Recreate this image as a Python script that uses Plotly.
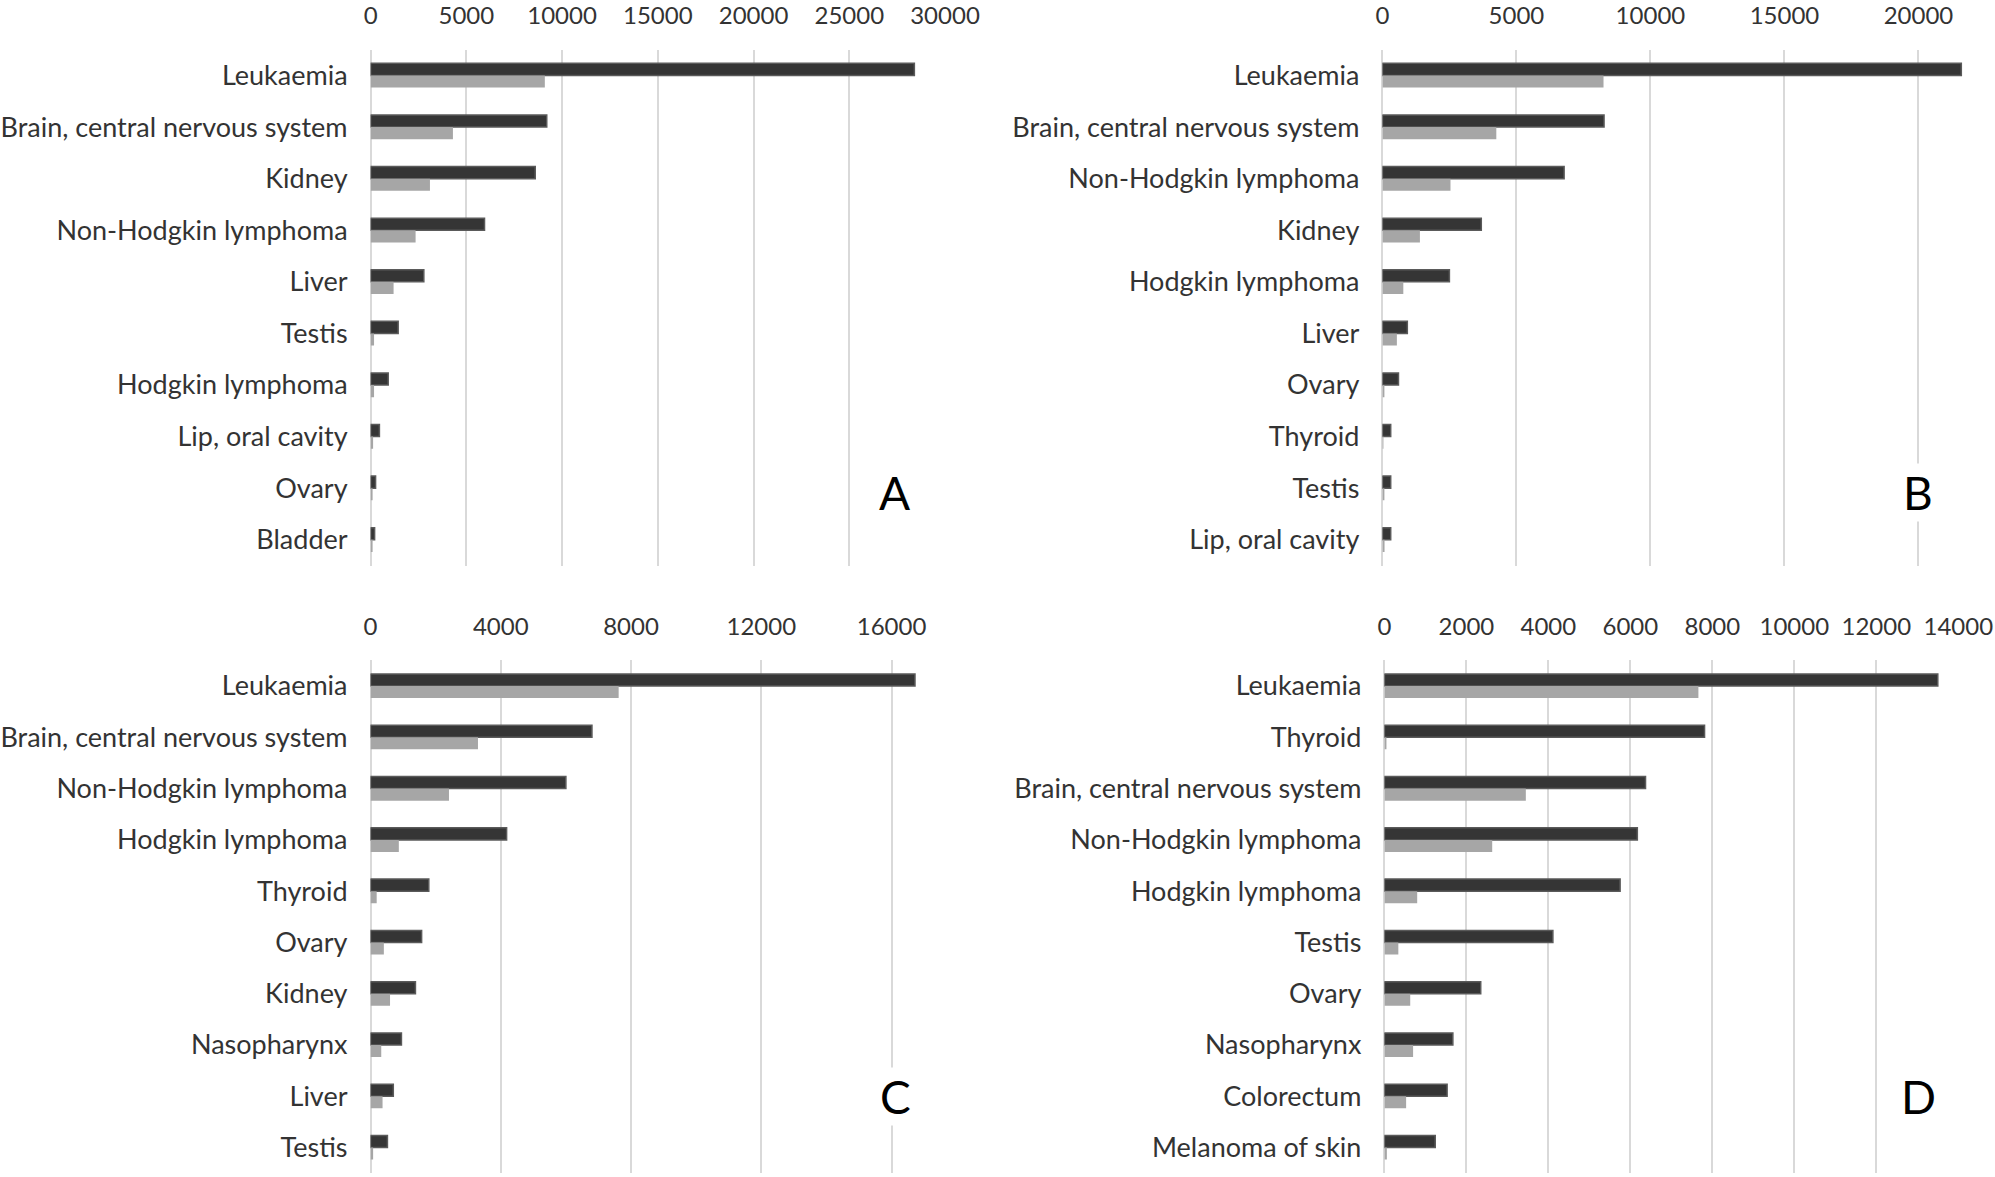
import plotly.graph_objects as go

# ---------------- data ----------------
cats_a = ["Leukaemia", "Brain, central nervous system", "Kidney", "Non-Hodgkin lymphoma",
          "Liver", "Testis", "Hodgkin lymphoma", "Lip, oral cavity", "Ovary", "Bladder"]
dark_a = [28400, 9200, 8600, 5950, 2780, 1440, 920, 460, 260, 210]
light_a = [9100, 4300, 3100, 2350, 1200, 180, 180, 130, 60, 70]

cats_b = ["Leukaemia", "Brain, central nervous system", "Non-Hodgkin lymphoma", "Kidney",
          "Hodgkin lymphoma", "Liver", "Ovary", "Thyroid", "Testis", "Lip, oral cavity"]
dark_b = [21600, 8270, 6780, 3690, 2500, 930, 600, 310, 310, 310]
light_b = [8250, 4250, 2540, 1400, 780, 540, 70, 20, 40, 80]

cats_c = ["Leukaemia", "Brain, central nervous system", "Non-Hodgkin lymphoma", "Hodgkin lymphoma",
          "Thyroid", "Ovary", "Kidney", "Nasopharynx", "Liver", "Testis"]
dark_c = [16720, 6800, 6000, 4180, 1790, 1570, 1380, 950, 700, 520]
light_c = [7620, 3300, 2410, 870, 190, 410, 600, 330, 370, 80]

cats_d = ["Leukaemia", "Thyroid", "Brain, central nervous system", "Non-Hodgkin lymphoma",
          "Hodgkin lymphoma", "Testis", "Ovary", "Nasopharynx", "Colorectum", "Melanoma of skin"]
dark_d = [13500, 7810, 6370, 6170, 5750, 4110, 2350, 1670, 1530, 1240]
light_d = [7660, 50, 3450, 2630, 800, 340, 630, 700, 530, 60]

ticks_a = [0, 5000, 10000, 15000, 20000, 25000, 30000]
ticks_b = [0, 5000, 10000, 15000, 20000]
ticks_c = [0, 4000, 8000, 12000, 16000]
ticks_d = [0, 2000, 4000, 6000, 8000, 10000, 12000, 14000]

panels = [
    ("A", cats_a, dark_a, light_a, ticks_a, [0, 30000]),
    ("B", cats_b, dark_b, light_b, ticks_b, [0, 21700]),
    ("C", cats_c, dark_c, light_c, ticks_c, [0, 16800]),
    ("D", cats_d, dark_d, light_d, ticks_d, [0, 14000]),
]

# ---------------- layout geometry (page pixels) ----------------
W, H = 1995, 1177


def fx(px):
    return min(1.0, max(0.0, px / W))


def fy(py):
    return min(1.0, max(0.0, 1 - py / H))


xdom = {
    "A": [fx(370.6), fx(945.0)],
    "B": [fx(1382.4), fx(1964.0)],
    "C": [fx(370.5), fx(917.6)],
    "D": [fx(1384.4), fx(1958.3)],
}
ytop = [fy(565.6), fy(49.7)]
ybot = [fy(1173.2), fy(660.4)]
ydom = {"A": ytop, "B": ytop, "C": ybot, "D": ybot}
letter_pos = {"A": (894, 492), "B": (1918, 492), "C": (895, 1096), "D": (1918, 1096)}

FONT = "Lato, 'Open Sans', sans-serif"
TXT = "#333333"
DARK = "#353535"
LIGHT = "#a6a6a6"
GRID = "#d9d9d9"

fig = go.Figure()
layout = dict(
    width=W, height=H, autosize=False,
    margin=dict(l=0, r=0, t=0, b=0, pad=0, autoexpand=False),
    paper_bgcolor="white", plot_bgcolor="white",
    barmode="group", bargap=0.53, bargroupgap=0.0,
    showlegend=False,
    font=dict(family=FONT, size=24, color=TXT),
)
annotations = []
for i, (name, cats, dark, light, ticks, rng) in enumerate(panels):
    n = "" if i == 0 else str(i + 1)
    xa, ya = "x" + n, "y" + n
    fig.add_trace(go.Bar(y=cats, x=dark, orientation="h", xaxis=xa, yaxis=ya,
                         marker=dict(color=DARK, line=dict(color="#5a5a5a", width=1.5)),
                         name="dark"))
    fig.add_trace(go.Bar(y=cats, x=light, orientation="h", xaxis=xa, yaxis=ya,
                         marker=dict(color=LIGHT, line=dict(width=0)),
                         name="light"))
    layout["xaxis" + n] = dict(
        domain=xdom[name], anchor=ya, side="top", range=rng,
        tickmode="array", tickvals=ticks, ticktext=[str(t) for t in ticks],
        showgrid=True, gridcolor=GRID, gridwidth=2,
        zeroline=True, zerolinecolor=GRID, zerolinewidth=2,
        showline=False, ticks="", ticklabelstandoff=20,
        tickfont=dict(family=FONT, size=24, color=TXT),
        automargin=False, fixedrange=True,
    )
    layout["yaxis" + n] = dict(
        domain=ydom[name], anchor=xa, type="category",
        categoryorder="array", categoryarray=cats, autorange="reversed",
        showgrid=False, zeroline=False, showline=False, ticks="",
        ticklabelstandoff=22,
        tickfont=dict(family=FONT, size=27, color=TXT),
        automargin=False, fixedrange=True,
    )
    lx, ly = letter_pos[name]
    annotations.append(dict(text=name, x=fx(lx), y=fy(ly), xref="paper", yref="paper",
                            showarrow=False, xanchor="center", yanchor="middle",
                            bgcolor="white",
                            font=dict(family=FONT, size=46, color="black")))
layout["annotations"] = annotations
fig.update_layout(**layout)
fig.write_html(
    "out.html",
    config={"displayModeBar": False, "responsive": False},
    post_script="document.body.style.margin='0';document.body.style.overflow='hidden';",
)
